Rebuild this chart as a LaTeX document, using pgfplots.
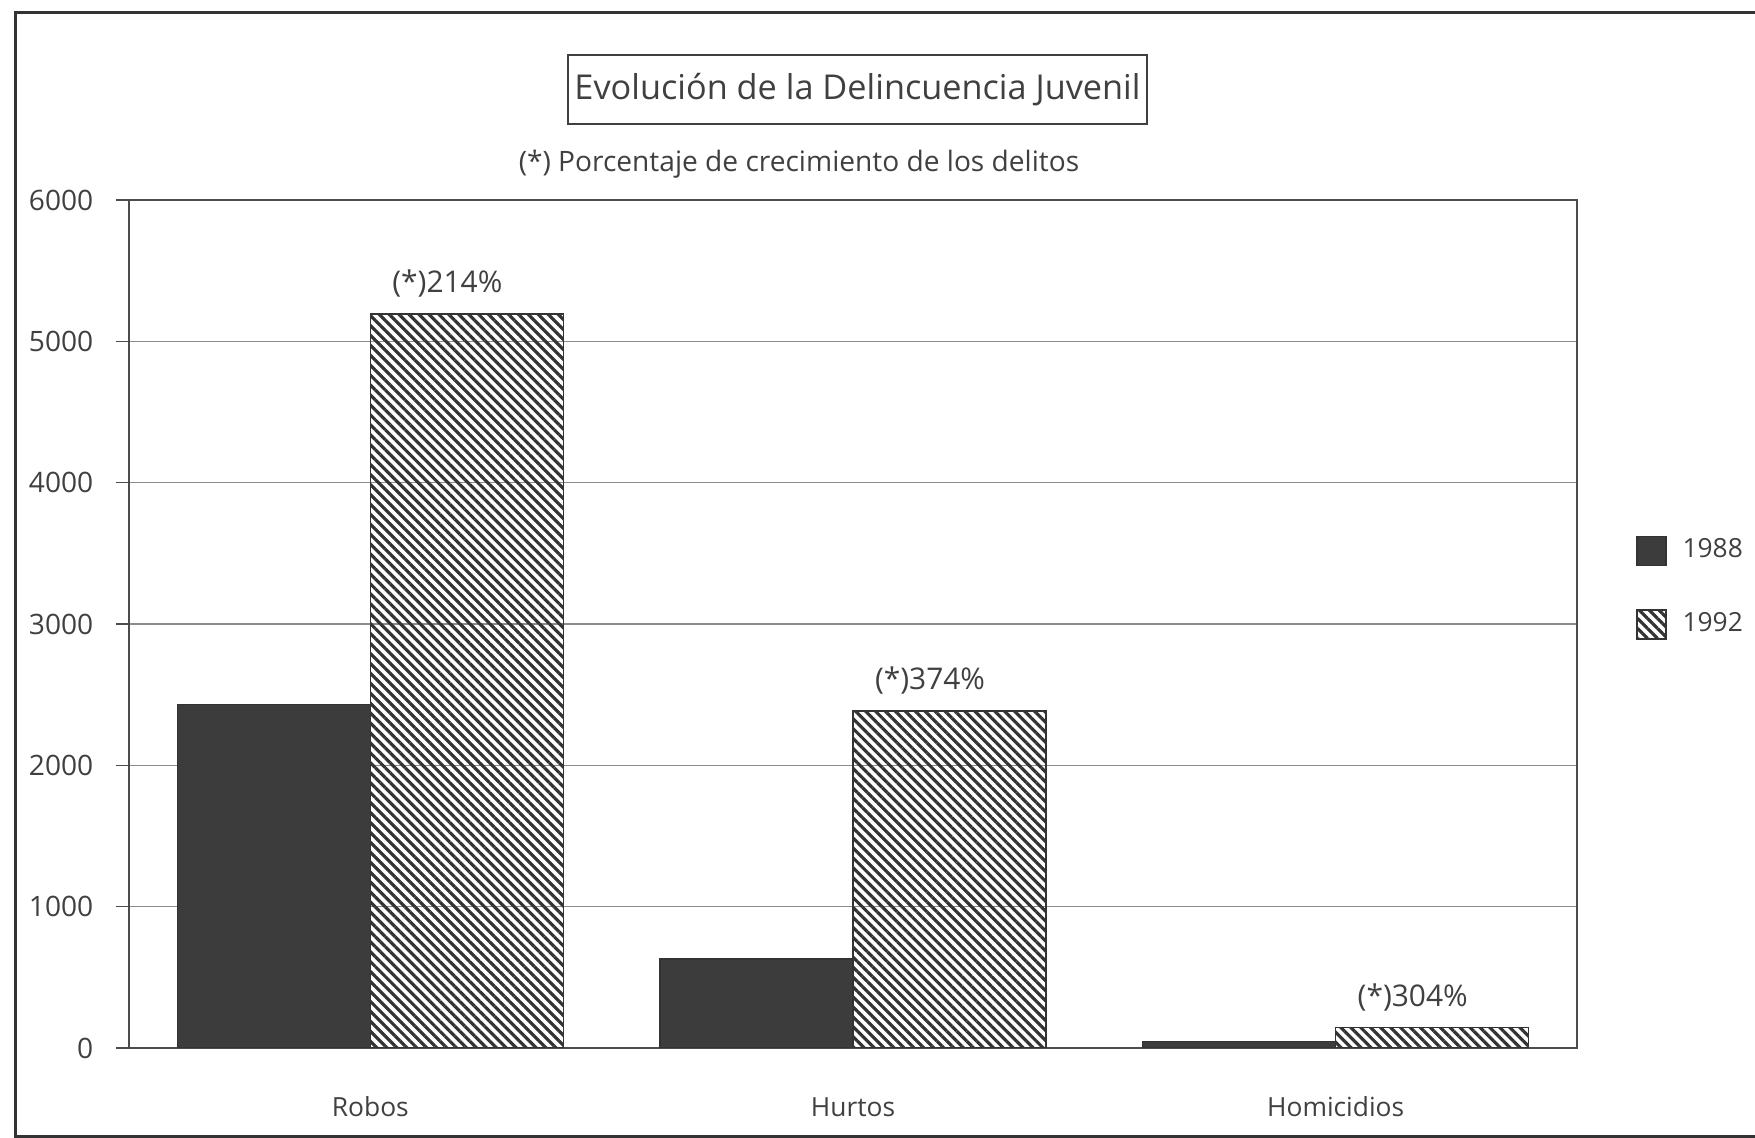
\documentclass[border=0pt]{standalone}
\usepackage{fontspec}
\setmainfont{Open Sans}
\usepackage{pgfplots}
\pgfplotsset{compat=1.18}
\usetikzlibrary{patterns.meta}

\definecolor{txt}{HTML}{404040}
\definecolor{barA}{HTML}{3C3C3C}
\definecolor{gridc}{HTML}{8C8C8C}

\begin{document}
\begin{tikzpicture}
\useasboundingbox (0,0) rectangle (175.5mm,113.8mm);
% outer frame (right side is cut off in the original)
\draw[line width=0.3mm, black!80] (176mm,112.5mm) -- (1.5mm,112.5mm) -- (1.5mm,0.15mm) -- (176mm,0.15mm);
\node[draw=black!75, line width=0.2mm, minimum width=57.9mm, minimum height=6.9mm,
      inner sep=0pt, text=txt, font=\fontsize{9.75}{12}\selectfont]
      at (85.75mm,104.8mm) {Evolución de la Delincuencia Juvenil};
\node[text=txt, font=\fontsize{8}{10}\selectfont] at (79.9mm,97.4mm)
      {(*) Porcentaje de crecimiento de los delitos};

\begin{axis}[
    at={(12.9mm,9mm)}, anchor=south west,
    scale only axis, width=144.8mm, height=84.8mm,
    xmin=-0.5, xmax=2.5, ymin=0, ymax=6000,
    xtick={0,1,2}, xticklabels={Robos,Hurtos,Homicidios},
    ytick={0,1000,...,6000}, ytick pos=left,
    /pgf/number format/1000 sep={},
    /pgf/number format/assume math mode=true,
    tick align=outside, major tick length=1.3mm,
    xtick style={draw=none},
    ytick style={draw=black!70, line width=0.15mm},
    axis line style={draw=black!70, line width=0.2mm},
    ymajorgrids, grid style={gridc, line width=0.15mm},
    ticklabel style={text=txt},
    yticklabel style={font=\fontsize{8}{10}\selectfont, anchor=east, inner sep=0pt, xshift=-2.2mm},
    xticklabel style={font=\fontsize{7.5}{9}\selectfont, anchor=base, inner sep=0pt, yshift=-5.6mm},
    legend style={draw=none, fill=none, at={(1.033,0.543)}, anchor=west,
                  font=\fontsize{7.5}{9}\selectfont, text=txt,
                  nodes={inner sep=0pt}, column sep=1.6mm, row sep=4.3mm},
    legend cell align=left,
    legend image code/.code={\draw[#1] (0mm,-1.45mm) rectangle (2.9mm,1.45mm);},
]
\addplot[ybar, bar width=0.4, bar shift=-0.2, fill=barA, draw=black!80, line width=0.15mm]
    coordinates {(0,2430) (1,630) (2,45)};
\addlegendentry{1988}
\addplot[ybar, bar width=0.4, bar shift=0.2, draw=black!80, line width=0.15mm,
         pattern={Lines[angle=-45,distance=2pt,line width=0.9pt]}, pattern color=black!80,
         nodes near coords, point meta=explicit symbolic,
         nodes near coords style={anchor=base, inner sep=0pt, yshift=2.1mm, xshift=7.7mm,
                                  text=txt, font=\fontsize{8.5}{10}\selectfont}]
    coordinates {(0,5195) [(*)214\%] (1,2385) [(*)374\%] (2,145) [(*)304\%]};
\addlegendentry{1992}
\end{axis}
\end{tikzpicture}
\end{document}
